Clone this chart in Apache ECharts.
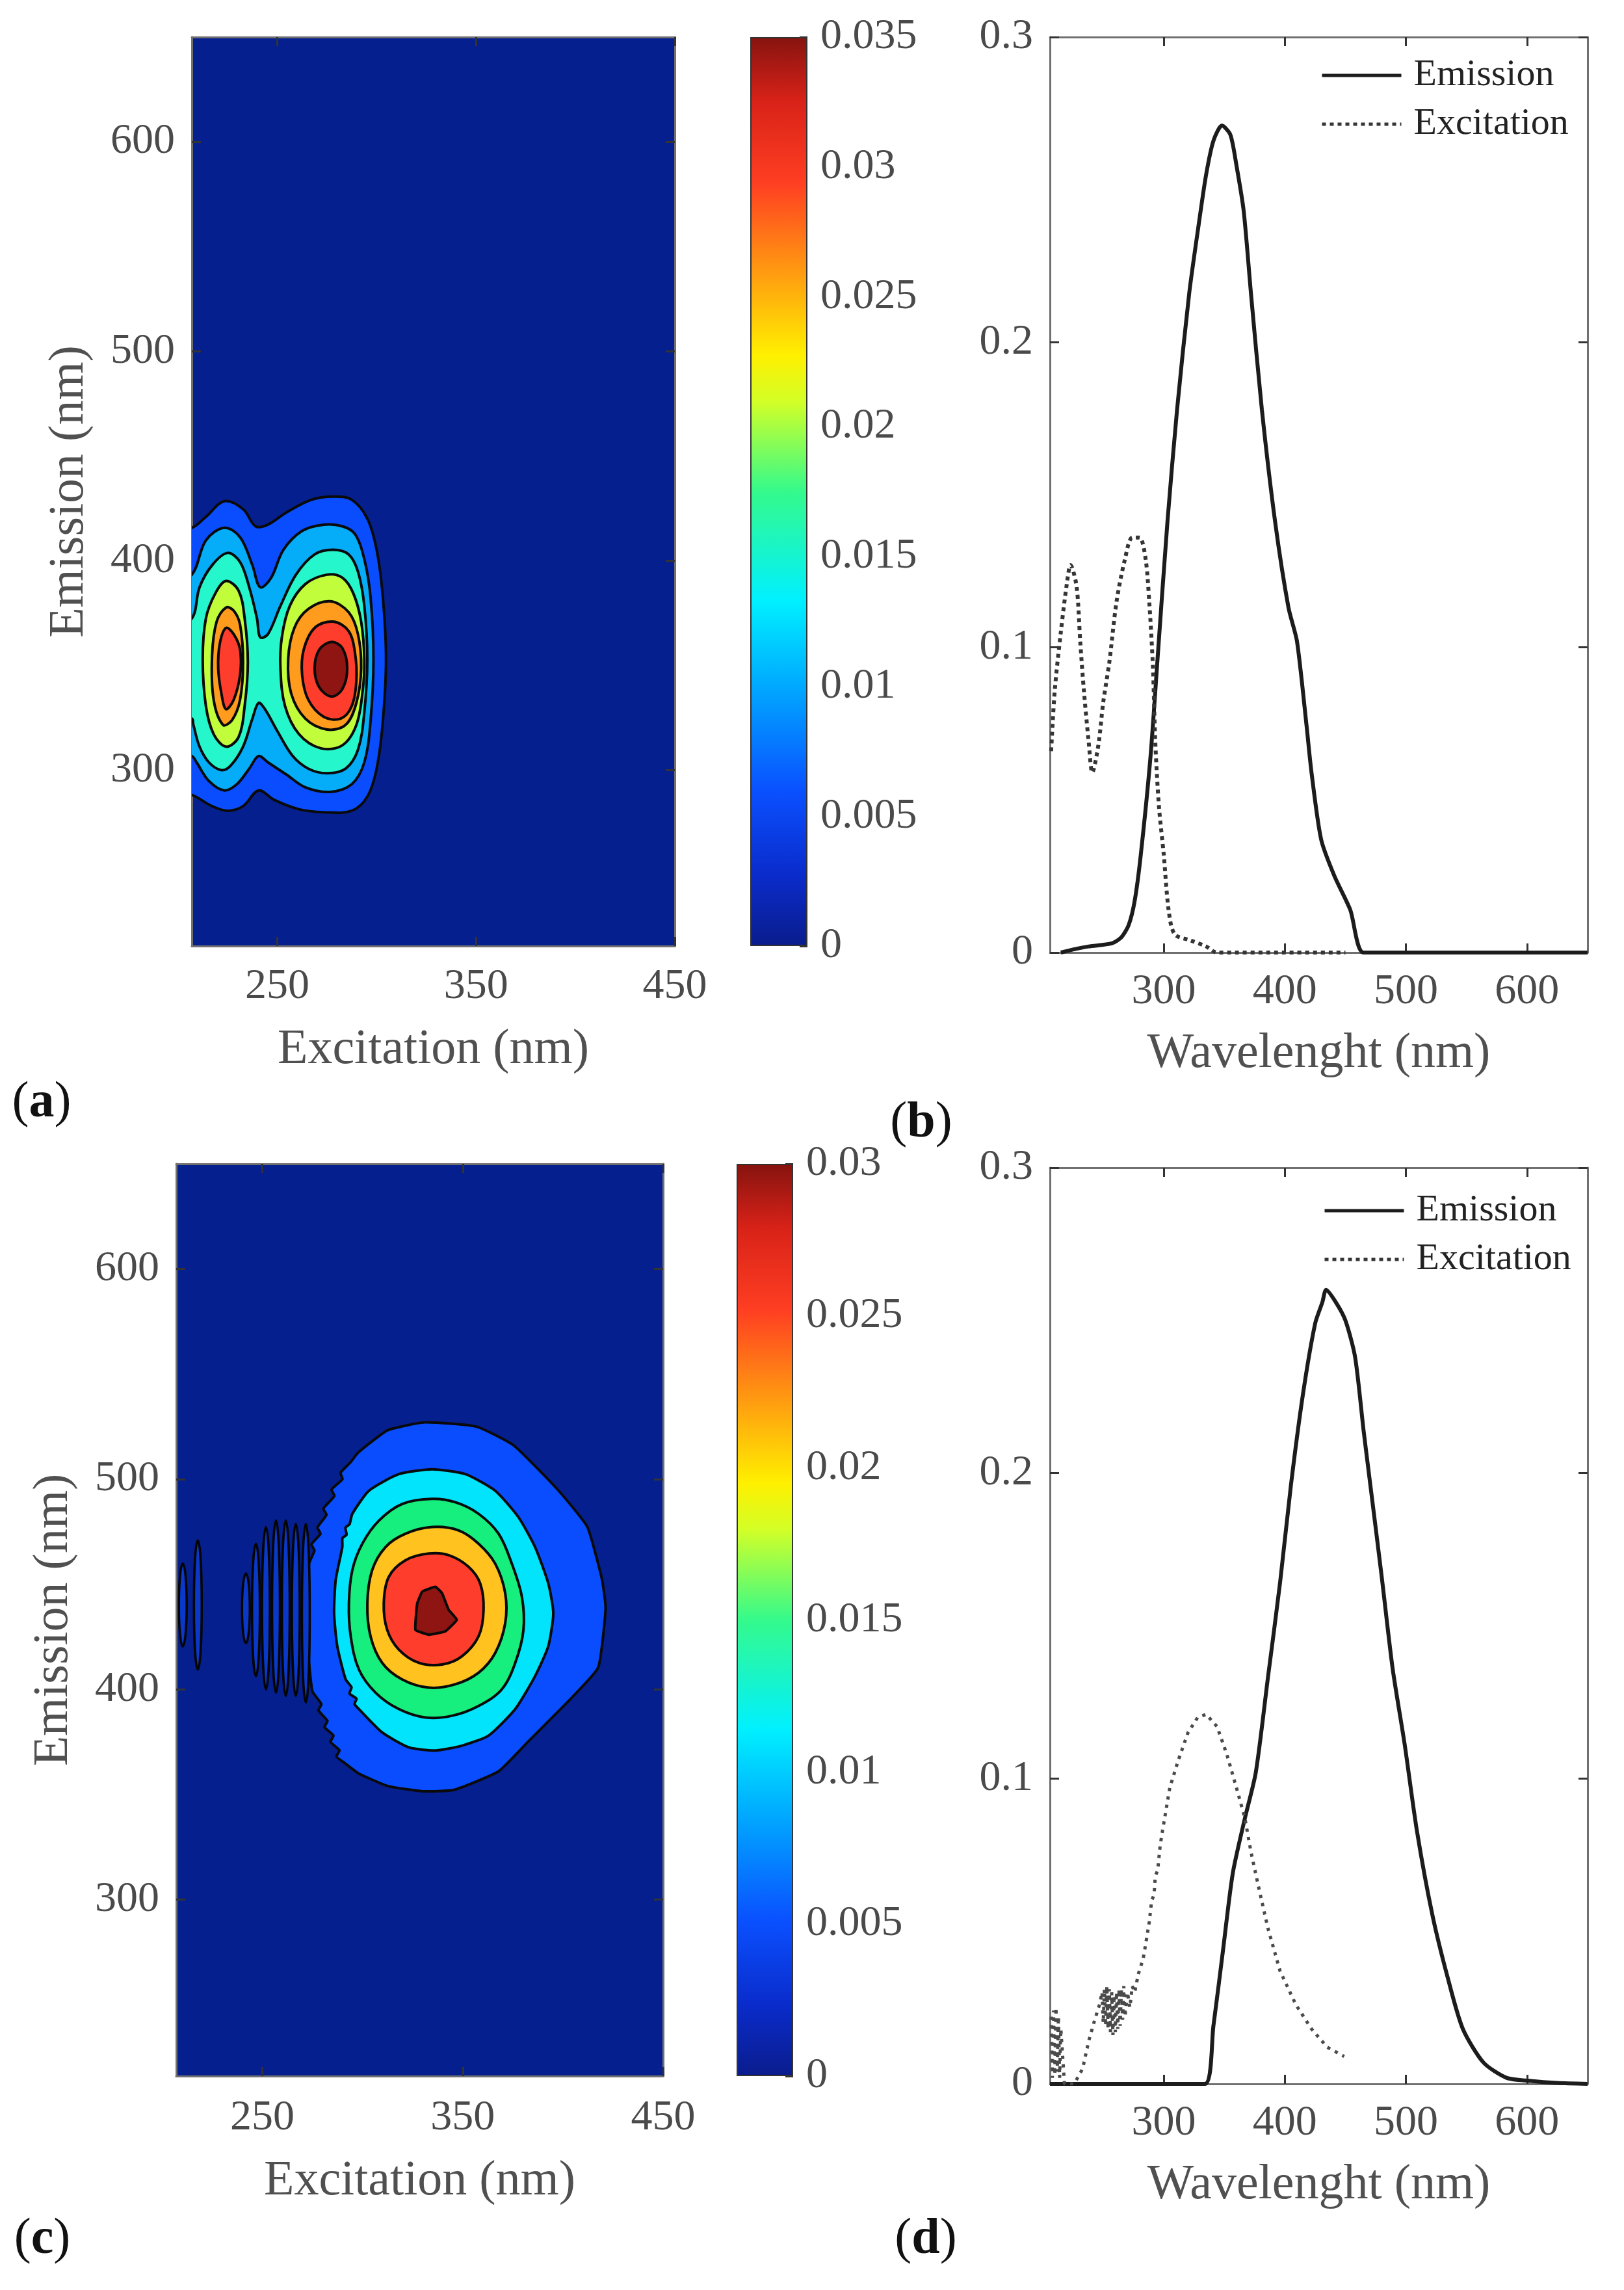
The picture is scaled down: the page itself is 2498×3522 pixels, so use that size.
<!DOCTYPE html>
<html>
<head>
<meta charset="utf-8">
<script src="https://cdn.jsdelivr.net/npm/echarts@6/dist/echarts.min.js"></script>
<style>
html, body { margin: 0; padding: 0; background: #fff; }
#chart { width: 2498px; height: 3522px; }
</style>
</head>
<body>
<div id="chart"></div>
<script>
// ---- tick values ----
var xTicksEx = [250, 350, 450];
var yTicksEm = [300, 400, 500, 600];
var xTicksWl = [300, 400, 500, 600];
var yTicksInt = [0, 0.1, 0.2, 0.3];
var cbarTicksA = [0, 0.005, 0.01, 0.015, 0.02, 0.025, 0.03, 0.035];
var cbarTicksC = [0, 0.005, 0.01, 0.015, 0.02, 0.025, 0.03];

// ---- (a) contour lines, [excitation, emission] in nm ----
var contourA1 = [[198,416],[207,415.7],[214.1,420.9],[223.4,428.4],[232.8,424.6],[239.1,416.4],[245.3,417.2],[254.7,423.1],[267.2,429.1],[278.1,430.6],[287.5,429.1],[295.3,420.1],[300,405.2],[303.1,382.8],[304.7,353],[303.1,323.1],[300,300.7],[295.3,287.3],[287.5,280.6],[273.4,279.9],[260.9,281.3],[248.4,285.8],[240.6,290.3],[232.8,282.8],[225,280.6],[217.2,282.8],[207,288.1],[198,289]];
var contourA2 = [[198,392],[207,393.3],[214.1,409.7],[223.4,415.7],[231.3,411.2],[237.5,397.8],[241.4,387.3],[246.9,391.8],[253.1,405.2],[262.5,414.2],[273.4,417.2],[282.8,416.4],[289.1,412.7],[293.8,400.7],[296.9,382.8],[298.4,353],[296.9,323.1],[293.8,303.7],[287.5,293.3],[276.6,289.6],[264.1,291.8],[254.7,297.8],[245.3,303.7],[240.6,306.7],[235.9,300.7],[229.7,293.3],[223.4,290.3],[215.6,294.8],[209.4,303.7],[207,306.7],[198,308]];
var contourA3 = [[198,371],[207,372.4],[210.9,387.3],[217.2,397.8],[225,403.7],[231.3,399.3],[235.9,387.3],[239.8,372.4],[241.4,363.4],[245.3,364.9],[251.6,378.4],[259.4,393.3],[268.8,403],[278.1,405.2],[285.9,403],[290.6,394.8],[293.8,378.4],[295.3,353],[293.8,327.6],[290.6,309.7],[284.4,300.7],[275,298.5],[265.6,300.7],[257.8,306.7],[250,318.7],[243.8,329.1],[240.6,332.1],[237.5,324.6],[232.8,311.2],[226.6,302.2],[221.9,300],[215.6,303.7],[210.9,311.2],[207.8,321.6],[207,324.6],[198,326]];
var contourA4L = [[224.2,390.3],[218.8,384.3],[214.1,372.4],[212.5,353],[214.1,330.6],[218,317.2],[224.2,311.2],[230.5,315.7],[233.6,330.6],[235.2,351.5],[233.6,372.4],[230.5,385.8]];
var contourA4R = [[275,393.3],[264.1,388.8],[256.3,378.4],[252.3,363.4],[251.6,348.5],[253.9,330.6],[260.9,317.2],[271.9,310.4],[282.8,311.9],[289.8,321.6],[293,338.1],[293.8,353],[292.2,370.9],[288.3,384.3],[282.8,391.8]];
var contourA5L = [[224.2,377.6],[219.5,370.9],[217.2,354.5],[218,333.6],[222.7,321.6],[227.3,323.9],[231.3,333.6],[232.8,351.5],[231.3,369.4],[228.1,376.1]];
var contourA5R = [[276.6,380.6],[265.6,376.9],[258.6,367.9],[255.5,353],[257,336.6],[264.1,324.6],[275,319.4],[284.4,321.6],[289.8,332.1],[292.2,348.5],[290.6,364.9],[285.9,375.4]];
var contourA6L = [[224.2,367.9],[221.1,360.4],[220.3,348.5],[221.9,336.6],[224.2,329.1],[228.1,333.6],[231.3,345.5],[231.3,357.5],[228.1,364.9]];
var contourA6R = [[278.1,370.9],[268.8,367.9],[263.3,357.5],[262.5,345.5],[265.6,333.6],[273.4,325.4],[282,324.6],[287.5,330.6],[289.8,342.5],[289.1,356],[285.9,366.4]];
var contourA7 = [[277.3,361.2],[271.1,357.5],[268.8,348.5],[271.1,339.6],[277.3,335.1],[282.8,338.8],[285.2,348.5],[282.8,358.2]];

// ---- (c) contour lines ----
var contourC1 = [[297.9,512.7],[312.6,523.3],[331,527],[356.8,525],[375.2,516.2],[397.3,495.1],[412.1,477.4],[419.4,452.7],[421.3,438.6],[417.6,410.4],[404.7,396.3],[382.6,375.1],[367.9,361],[345.8,352.2],[330,351.5],[312.6,354],[298,360],[291,365],[287,368],[288.5,371],[284,375],[285.5,378],[281,382],[282.5,385],[278,390],[279.5,393],[275,399],[273.3,412.6],[271.7,428.3],[271.7,444.1],[273.3,459.8],[276,466],[274.5,469],[279,474],[277.5,477],[282,483],[280.5,486],[286,492],[284.5,495],[290,500],[289,503],[294,508]];
var contourC2 = [[334.7,504.7],[351.3,502.4],[366.2,494.5],[377.8,481.9],[386.1,467.7],[392.7,450.4],[395.2,436.2],[392.7,420.5],[386.1,406.3],[376.2,390.6],[362.9,378],[349.6,373.2],[336.4,370.9],[323.1,372.4],[309.8,379.5],[298.2,390.6],[296,393],[297,395.5],[293.5,398],[294.5,401],[291.6,404.7],[287.4,420.5],[285.8,436.2],[286.6,452],[289.9,467.7],[290,472],[292,473.5],[291.5,477],[293.5,478.5],[294.9,483.5],[303.2,494.5],[318.1,502.4]];
var contourC3 = [[334.7,490.6],[319.8,488.2],[308.2,480.3],[299.9,469.3],[294.9,456.7],[293.2,440.9],[294.1,425.2],[298.2,409.4],[306.5,398.4],[318.1,390.6],[331.4,386.6],[344.6,387.4],[357.9,392.1],[369.5,400],[376.2,412.6],[380.3,428.3],[379.5,444.1],[374.5,459.8],[367.9,474],[357.9,483.5],[346.3,489]];
var contourC4 = [[334.7,477.2],[321.4,474],[311.5,467.7],[304.8,456.7],[302.4,440.9],[304,425.2],[309.8,412.6],[319.8,404.7],[333.1,400.8],[346.3,402.4],[357.9,407.9],[366.2,417.3],[371.2,431.5],[371.2,445.7],[366.2,459.8],[357.9,469.3],[348,475.6]];
var contourC5 = [[333.1,464.6],[321.4,461.4],[313.1,453.5],[310.6,440.9],[312.3,428.3],[318.1,418.9],[328.1,412.6],[339.7,411.8],[349.6,415.7],[357.9,425.2],[360.4,437.8],[358.7,450.4],[352.9,458.3],[343,463.8]];
var contourC6 = [[336.4,448.8],[329.8,446.5],[327.3,440.9],[326.4,428.3],[333.1,426],[341.3,427.6],[347.1,433.1],[343,437.8],[339.7,445.7]];

// (c) small closed contours on the left: excitation, top and bottom emission
var rippleX = [210.3, 217.8, 241.8, 246.8, 251.8, 256.8, 261.7, 266.7, 271.7];
var rippleTop = [459.8, 470.9, 455.1, 469.3, 477.2, 480.3, 480.3, 478.7, 478.7];
var rippleBottom = [420.5, 409.4, 422.0, 406.3, 400.0, 398.4, 396.9, 396.9, 393.7];

// ---- (b) spectra ----
var bEmX = [215, 225, 238, 257, 265, 271, 276, 281, 289, 295, 303, 311, 321, 329, 335, 341, 348, 355, 360, 366, 372, 381, 392, 403, 410, 418, 422, 430, 441, 454, 465, 500, 600, 650];
var bEmY = [0, 0.001, 0.002, 0.003, 0.005, 0.009, 0.017, 0.032, 0.064, 0.097, 0.141, 0.178, 0.216, 0.239, 0.255, 0.266, 0.271, 0.268, 0.258, 0.243, 0.216, 0.178, 0.141, 0.113, 0.102, 0.074, 0.059, 0.037, 0.025, 0.014, 0, 0, 0, 0];
var bExX = [207, 210, 215, 220, 223, 228, 231, 234, 238, 241, 246, 250, 255, 261, 268, 274, 280, 285, 288, 291, 293, 296, 300, 304, 309, 322, 335, 344, 400, 450];
var bExY = [0.066, 0.086, 0.105, 0.121, 0.127, 0.120, 0.102, 0.086, 0.069, 0.059, 0.068, 0.082, 0.095, 0.115, 0.129, 0.136, 0.136, 0.129, 0.115, 0.094, 0.069, 0.048, 0.032, 0.014, 0.006, 0.004, 0.002, 0, 0, 0];

// ---- (d) spectra ----
var dEmX = [206, 300, 334, 341, 349, 357, 367, 376, 386, 396, 405, 415, 425, 431, 434, 442, 450, 458, 465, 470, 480, 489, 499, 509, 522, 535, 547, 564, 583, 602, 625, 650];
var dEmY = [0, 0, 0, 0.019, 0.044, 0.069, 0.087, 0.102, 0.133, 0.164, 0.196, 0.226, 0.249, 0.256, 0.260, 0.256, 0.250, 0.238, 0.214, 0.198, 0.166, 0.136, 0.111, 0.083, 0.055, 0.034, 0.018, 0.007, 0.002, 0.001, 0.0003, 0];
var dExX = [207, 208, 209, 210, 211, 212, 213, 214, 215, 218, 226, 233, 238, 243, 247, 249, 250, 251, 252, 253, 254, 255, 256, 257, 258, 259, 260, 261, 262, 263, 264, 265, 266, 267, 268, 270, 272, 274, 276, 279, 283, 286, 288, 290, 292, 293, 295, 297, 299, 305, 312, 320, 328, 335, 344, 352, 360, 367, 372, 378, 386, 396, 409, 422, 435, 449];
var dExY = [0.022, 0.002, 0.024, 0.003, 0.025, 0.004, 0.022, 0.002, 0.018, 0, 0, 0.005, 0.014, 0.021, 0.026, 0.030, 0.020, 0.031, 0.019, 0.032, 0.018, 0.031, 0.017, 0.030, 0.016, 0.029, 0.017, 0.030, 0.018, 0.031, 0.019, 0.031, 0.021, 0.032, 0.022, 0.030, 0.025, 0.032, 0.030, 0.036, 0.041, 0.048, 0.053, 0.060, 0.062, 0.068, 0.070, 0.078, 0.083, 0.097, 0.106, 0.115, 0.120, 0.121, 0.117, 0.108, 0.097, 0.087, 0.076, 0.065, 0.051, 0.037, 0.026, 0.018, 0.012, 0.009];

// ---- styles ----
var FONT = "'Liberation Serif', 'Times New Roman', serif";
var NAVY = '#061f8e';
var levelColorsA = ['#0a4dff', '#05acf7', '#26f6cc', '#c2fd3c', '#ff9c1e', '#ff3d2c', '#8e1512'];
var levelColorsC = ['#0a4dff', '#02e4fb', '#16ef7e', '#ffc21e', '#ff3d2c', '#8e1512'];
var jetStops = [
  { offset: 0, color: '#0a1c8c' }, { offset: 0.08, color: '#0a2ccc' },
  { offset: 0.17, color: '#0a50ff' }, { offset: 0.29, color: '#00acff' },
  { offset: 0.38, color: '#00f0ff' }, { offset: 0.5, color: '#34fa8c' },
  { offset: 0.6, color: '#d4ff26' }, { offset: 0.65, color: '#fff000' },
  { offset: 0.74, color: '#ff9c10' }, { offset: 0.84, color: '#ff3e22' },
  { offset: 0.93, color: '#d82218' }, { offset: 1, color: '#86130f' }
];

var polysA = [
  { pts: contourA1, level: 0 }, { pts: contourA2, level: 1 }, { pts: contourA3, level: 2 },
  { pts: contourA4L, level: 3 }, { pts: contourA4R, level: 3 },
  { pts: contourA5L, level: 4 }, { pts: contourA5R, level: 4 },
  { pts: contourA6L, level: 5 }, { pts: contourA6R, level: 5 },
  { pts: contourA7, level: 6 }
];
var polysC = [
  { pts: contourC1, level: 0, smooth: 0.15 }, { pts: contourC2, level: 1, smooth: 0.2 },
  { pts: contourC3, level: 2 }, { pts: contourC4, level: 3 },
  { pts: contourC5, level: 4 }, { pts: contourC6, level: 5, smooth: 0.1 }
];

function fmt(v) {
  return String(parseFloat(Number(v).toFixed(4)));
}

function contourRender(polys, colors) {
  return function (params, api) {
    var p = polys[params.dataIndex];
    var pts = p.pts.map(function (q) { return api.coord(q); });
    return {
      type: 'polygon',
      shape: { points: pts, smooth: p.smooth != null ? p.smooth : 0.35 },
      style: { fill: colors[p.level], stroke: '#0a0a0a', lineWidth: 4 }
    };
  };
}

function rippleRender(params, api) {
  var top = api.coord([api.value(0), api.value(1)]);
  var bot = api.coord([api.value(0), api.value(2)]);
  return {
    type: 'ellipse',
    shape: { cx: top[0], cy: (top[1] + bot[1]) / 2, rx: 6, ry: (bot[1] - top[1]) / 2 },
    style: { fill: '#0a38c8', stroke: '#050505', lineWidth: 3.5 }
  };
}

function axis(grid, position, min, max, ticks, label, name, nameGap) {
  var ax = {
    type: 'value', gridIndex: grid, position: position, min: min, max: max,
    splitLine: { show: false },
    axisLine: { show: true, onZero: false, lineStyle: { color: '#707070', width: 3 } },
    axisTick: { show: true, inside: true, length: 14, customValues: ticks, lineStyle: { color: '#333', width: 3 } },
    axisLabel: label ? {
      show: true, customValues: ticks, margin: label, fontFamily: FONT, fontSize: 66,
      color: '#4a4a4a', formatter: fmt
    } : { show: false }
  };
  if (name) {
    ax.name = name;
    ax.nameLocation = 'middle';
    ax.nameGap = nameGap;
    ax.nameTextStyle = { fontFamily: FONT, fontSize: 76, color: '#505050' };
  }
  return ax;
}

function cbarAxis(grid, ticks, max) {
  return {
    type: 'value', gridIndex: grid, position: 'right', min: 0, max: max,
    splitLine: { show: false },
    axisLine: { show: false },
    axisTick: { show: true, inside: true, length: 12, customValues: ticks, lineStyle: { color: '#333', width: 3 } },
    axisLabel: { show: true, customValues: ticks, margin: 20, fontFamily: FONT, fontSize: 66, color: '#4a4a4a', formatter: fmt }
  };
}

function spectraLegend(left, top) {
  return {
    orient: 'vertical', left: left, top: top, itemWidth: 122, itemHeight: 20, itemGap: 17,
    data: ['Emission', 'Excitation'],
    itemStyle: { opacity: 0, borderWidth: 0 },
    lineStyle: { width: 5 },
    textStyle: { fontFamily: FONT, fontSize: 58, color: '#222', lineHeight: 58, padding: [0, 0, 0, 14] }
  };
}

function panelLabel(letter, x, y) {
  return {
    type: 'text', x: x, y: y,
    style: {
      text: '{n|(}{b|' + letter + '}{n|)}',
      align: 'center', verticalAlign: 'middle',
      rich: {
        n: { fontFamily: FONT, fontSize: 78, fill: '#111' },
        b: { fontFamily: FONT, fontSize: 78, fontWeight: 'bold', fill: '#111' }
      }
    }
  };
}

var chart = echarts.init(document.getElementById('chart'));

var option = {
  animation: false,
  backgroundColor: '#fff',
  grid: [
    { left: 295, top: 57, width: 743, height: 1398, show: true, backgroundColor: NAVY, borderWidth: 0 },
    { left: 1154, top: 57, width: 88, height: 1398 },
    { left: 1615, top: 57, width: 827, height: 1408 },
    { left: 271, top: 1790, width: 749, height: 1403, show: true, backgroundColor: NAVY, borderWidth: 0 },
    { left: 1133, top: 1790, width: 87, height: 1403 },
    { left: 1615, top: 1796, width: 827, height: 1409 }
  ],
  xAxis: [
    axis(0, 'bottom', 207, 450, xTicksEx, 30, 'Excitation (nm)', 122),
    axis(0, 'top', 207, 450, xTicksEx, null),
    { type: 'category', gridIndex: 1, data: ['cb'], show: false },
    axis(2, 'bottom', 206, 650, xTicksWl, 28, 'Wavelenght (nm)', 118),
    axis(2, 'top', 206, 650, xTicksWl, null),
    axis(3, 'bottom', 207, 450, xTicksEx, 32, 'Excitation (nm)', 124),
    axis(3, 'top', 207, 450, xTicksEx, null),
    { type: 'category', gridIndex: 4, data: ['cb'], show: false },
    axis(5, 'bottom', 206, 650, xTicksWl, 28, 'Wavelenght (nm)', 118),
    axis(5, 'top', 206, 650, xTicksWl, null)
  ],
  yAxis: [
    axis(0, 'left', 216, 650, yTicksEm, 26, 'Emission (nm)', 150),
    axis(0, 'right', 216, 650, yTicksEm, null),
    cbarAxis(1, cbarTicksA, 0.035),
    axis(2, 'left', 0, 0.3, yTicksInt, 26),
    axis(2, 'right', 0, 0.3, yTicksInt, null),
    axis(3, 'left', 216, 650, yTicksEm, 26, 'Emission (nm)', 150),
    axis(3, 'right', 216, 650, yTicksEm, null),
    cbarAxis(4, cbarTicksC, 0.03),
    axis(5, 'left', 0, 0.3, yTicksInt, 26),
    axis(5, 'right', 0, 0.3, yTicksInt, null)
  ],
  legend: [spectraLegend(2026, 82), spectraLegend(2030, 1828)],
  graphic: [
    panelLabel('a', 64, 1697),
    panelLabel('b', 1417, 1728),
    panelLabel('c', 65, 3445),
    panelLabel('d', 1424, 3445)
  ],
  series: [
    {
      type: 'custom', xAxisIndex: 0, yAxisIndex: 0, clip: true, silent: true,
      renderItem: contourRender(polysA, levelColorsA),
      data: polysA.map(function (p) { return p.pts[1]; })
    },
    {
      type: 'bar', xAxisIndex: 2, yAxisIndex: 2, barWidth: '100%', silent: true,
      data: [cbarTicksA[cbarTicksA.length - 1]],
      itemStyle: { color: new echarts.graphic.LinearGradient(0, 1, 0, 0, jetStops), borderColor: '#333', borderWidth: 2 }
    },
    {
      name: 'Emission', type: 'line', xAxisIndex: 3, yAxisIndex: 3, symbol: 'none', smooth: 0.25,
      data: bEmX.map(function (x, i) { return [x, bEmY[i]]; }),
      lineStyle: { color: '#1c1c1c', width: 6 }, itemStyle: { color: '#1c1c1c' }
    },
    {
      name: 'Excitation', type: 'line', xAxisIndex: 3, yAxisIndex: 3, symbol: 'none', smooth: 0.3,
      data: bExX.map(function (x, i) { return [x, bExY[i]]; }),
      lineStyle: { color: '#353535', width: 6, type: [6, 6] }, itemStyle: { color: '#353535' }
    },
    {
      type: 'custom', xAxisIndex: 5, yAxisIndex: 5, clip: true, silent: true,
      renderItem: contourRender(polysC, levelColorsC),
      data: polysC.map(function (p) { return p.pts[1]; })
    },
    {
      type: 'custom', xAxisIndex: 5, yAxisIndex: 5, clip: true, silent: true,
      renderItem: rippleRender,
      data: rippleX.map(function (x, i) { return [x, rippleTop[i], rippleBottom[i]]; })
    },
    {
      type: 'bar', xAxisIndex: 7, yAxisIndex: 7, barWidth: '100%', silent: true,
      data: [cbarTicksC[cbarTicksC.length - 1]],
      itemStyle: { color: new echarts.graphic.LinearGradient(0, 1, 0, 0, jetStops), borderColor: '#333', borderWidth: 2 }
    },
    {
      name: 'Emission', type: 'line', xAxisIndex: 8, yAxisIndex: 8, symbol: 'none', smooth: 0.25,
      data: dEmX.map(function (x, i) { return [x, dEmY[i]]; }),
      lineStyle: { color: '#1c1c1c', width: 6 }, itemStyle: { color: '#1c1c1c' }
    },
    {
      name: 'Excitation', type: 'line', xAxisIndex: 8, yAxisIndex: 8, symbol: 'none', smooth: false,
      data: dExX.map(function (x, i) { return [x, dExY[i]]; }),
      lineStyle: { color: '#4a4a4a', width: 5, type: [5, 8] }, itemStyle: { color: '#4a4a4a' }
    }
  ]
};

chart.setOption(option);
</script>
</body>
</html>
